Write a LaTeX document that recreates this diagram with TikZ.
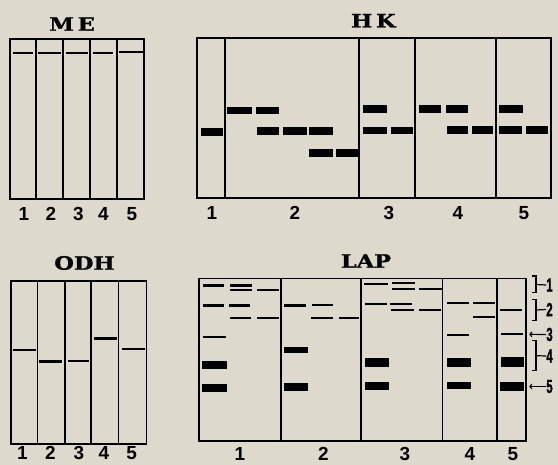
\documentclass[tikz,border=0pt]{standalone}
\usepackage{fontspec}
\setmainfont{Liberation Sans}
\newfontfamily\titlefont{DejaVu Serif}[BoldFeatures={FakeBold=1.2}]
\newfontfamily\sidefont{Liberation Sans}[BoldFeatures={FakeBold=1.5}]
\usetikzlibrary{arrows.meta}
\definecolor{paper}{RGB}{221,218,205}
\newcommand\thinb[3]{\draw[thinband] (#1,#3) -- (#2,#3);}
\newcommand\thickb[4]{\fill (#1,#3) rectangle (#2,#4);}
\begin{document}
\begin{tikzpicture}[x=1bp,y=-1bp,
  panel/.style={draw=black, line width=1.3bp},
  divider/.style={draw=black, line width=1.2bp},
  thinband/.style={line width=2.3bp},
  medband/.style={line width=3bp},
  title/.style={font=\titlefont\bfseries\fontsize{18.5}{18.5}\selectfont, xscale=1.22, inner sep=0pt},
  lanelabel/.style={font=\bfseries\fontsize{19}{19}\selectfont, inner sep=0pt},
  sidelabel/.style={font=\sidefont\bfseries\fontsize{19}{19}\selectfont, xscale=0.6, inner sep=0pt},
  bracket/.style={line width=1.2bp},
  sidearrow/.style={line width=1.2bp, -{To[length=3bp,width=5.5bp]}}
]
\fill[paper] (0,0) rectangle (558,465);
\useasboundingbox (0,0) rectangle (558,465);

% ---------------- ME ----------------
\node[title] (meT) at (72,24) {M\,E};
\draw[panel] (10,39) rectangle (144,199);
\foreach \x in {36,63,90,117} \draw[divider] (\x,39) -- (\x,199);
\thinb{12.5}{32.5}{52.7}
\thinb{38.3}{60.7}{52.7}
\thinb{66}{88.3}{52.7}
\thinb{92.7}{113.3}{52.7}
\thinb{119}{142.5}{51.9}
\node[lanelabel] (me1) at (24,214) {1};
\node[lanelabel] (me2) at (51,214) {2};
\node[lanelabel] (me3) at (78.3,214) {3};
\node[lanelabel] (me4) at (103.3,214) {4};
\node[lanelabel] (me5) at (132,214) {5};

% ---------------- HK ----------------
\node[title] (hkT) at (373.3,20.7) {H\,K};
\draw[panel] (197,38) rectangle (551,198);
\foreach \x in {225,359,415,496} \draw[divider] (\x,38) -- (\x,198);
% lane 1
\thickb{200.7}{223.3}{128.3}{135.7}
% lane 2
\thickb{227.3}{252.3}{106.7}{114.3}
\thickb{255.7}{279.3}{106.7}{114.3}
\thickb{256.7}{279.3}{127.3}{135}
\thickb{283.3}{306.7}{127.3}{135}
\thickb{309}{333.3}{127.3}{135}
\thickb{309}{333.3}{149.3}{157.3}
\thickb{335.7}{358.3}{149.3}{157.3}
% lane 3
\thickb{362.7}{387.3}{105.3}{113}
\thickb{362.7}{387.3}{126.7}{134.5}
\thickb{391.3}{413.3}{126.7}{134.5}
% lane 4
\thickb{418.7}{440.7}{105.3}{112.7}
\thickb{445.7}{468.3}{105.3}{112.7}
\thickb{446.7}{468.3}{125.7}{134}
\thickb{472}{493.3}{125.7}{134}
% lane 5
\thickb{499}{523.3}{105}{112.7}
\thickb{499}{521.7}{125.7}{134}
\thickb{525.7}{547.7}{125.7}{134}
\node[lanelabel] (hk1) at (212,213) {1};
\node[lanelabel] (hk2) at (295,213) {2};
\node[lanelabel] (hk3) at (389,213) {3};
\node[lanelabel] (hk4) at (458,213) {4};
\node[lanelabel] (hk5) at (524,213) {5};

% ---------------- ODH ----------------
\node[title] (odhT) at (84.5,263) {ODH};
\draw[panel] (11,281) rectangle (146.7,444);
\foreach \x in {37.7,65,91,118.3} \draw[divider] (\x,281) -- (\x,444);
\thinb{12.5}{35.7}{350}
\draw[medband] (39,361) -- (62.3,361);
\thinb{68}{89}{361}
\draw[medband] (94,338.7) -- (117,338.7);
\thinb{122}{144.5}{349}
\node[lanelabel] (odh1) at (22.5,453) {1};
\node[lanelabel] (odh2) at (50.5,453) {2};
\node[lanelabel] (odh3) at (79,453) {3};
\node[lanelabel] (odh4) at (104,453) {4};
\node[lanelabel] (odh5) at (131.7,453) {5};

% ---------------- LAP ----------------
\node[title] (lapT) at (366,261) {LAP};
\draw[panel] (199,278.5) rectangle (526,441);
\foreach \x in {281,361,442.7,497} \draw[divider] (\x,278.5) -- (\x,441);
% lane 1
\thinb{203.3}{224.3}{285.5}
\thinb{230}{252}{285.5}
\thinb{230}{252}{290.3}
\thinb{257.3}{279}{290.3}
\thinb{203.3}{224.3}{305.5}
\thinb{229.3}{250}{305.5}
\thinb{230}{251}{318.3}
\thinb{257.3}{279}{318.3}
\thinb{203}{226}{337.3}
\thickb{202}{226.7}{360.7}{368.7}
\thickb{202}{226.7}{384}{392}
% lane 2
\thinb{284}{306}{305.5}
\thinb{311.7}{333.3}{305}
\thinb{311}{332.7}{318.3}
\thinb{339}{359}{318.3}
\thickb{284}{307.7}{346.7}{352.7}
\thickb{284}{307.7}{382.7}{391.3}
% lane 3
\thinb{364.3}{388.3}{284}
\thinb{392.3}{415}{283.3}
\thinb{392.3}{415}{289}
\thinb{419}{442}{289}
\thinb{365}{387.3}{304.3}
\thinb{390}{412.3}{304.3}
\thinb{390.7}{414}{310}
\thinb{419}{441}{310}
\thickb{365}{389}{358.3}{366.7}
\thickb{365}{389}{382}{390}
% lane 4
\thinb{446.7}{469}{303.3}
\thinb{473.3}{495}{303.3}
\thinb{473.3}{495}{316.7}
\thinb{447.3}{469.3}{335}
\thickb{447}{471}{357.7}{366.7}
\thickb{447}{471}{381.7}{389.3}
% lane 5
\thinb{500}{522.3}{310}
\thinb{501}{523}{334.3}
\thickb{501}{524}{356.7}{366.7}
\thickb{500}{524}{381.7}{390.7}
\node[lanelabel] (lap1) at (240,454) {1};
\node[lanelabel] (lap2) at (323.3,454) {2};
\node[lanelabel] (lap3) at (405,454) {3};
\node[lanelabel] (lap4) at (470,454) {4};
\node[lanelabel] (lap5) at (513,454) {5};

% side annotations
\node[sidelabel] (s1) at (549.5,285) {1};
\node[sidelabel] (s2) at (549.5,309.5) {2};
\node[sidelabel] (s3) at (549.5,334.5) {3};
\node[sidelabel] (s4) at (549.5,356) {4};
\node[sidelabel] (s5) at (549.5,386.5) {5};
\draw[bracket] (532.3,276) -- (536,276) -- (536,292.7) -- (532.3,292.7);
\draw[bracket] (536,284.5) -- (s1.west);
\draw[bracket] (532.3,299.3) -- (536,299.3) -- (536,320.7) -- (532.3,320.7);
\draw[bracket] (536,310) -- (s2.west);
\coordinate (a3) at (529.3,334.3);
\draw[sidearrow] (s3.west) -- (a3);
\draw[bracket] (532.3,340.7) -- (536,340.7) -- (536,370.7) -- (532.3,370.7);
\draw[bracket] (536,355.7) -- (s4.west);
\coordinate (a5) at (529.3,386.5);
\draw[sidearrow] (s5.west) -- (a5);
\end{tikzpicture}
\end{document}
